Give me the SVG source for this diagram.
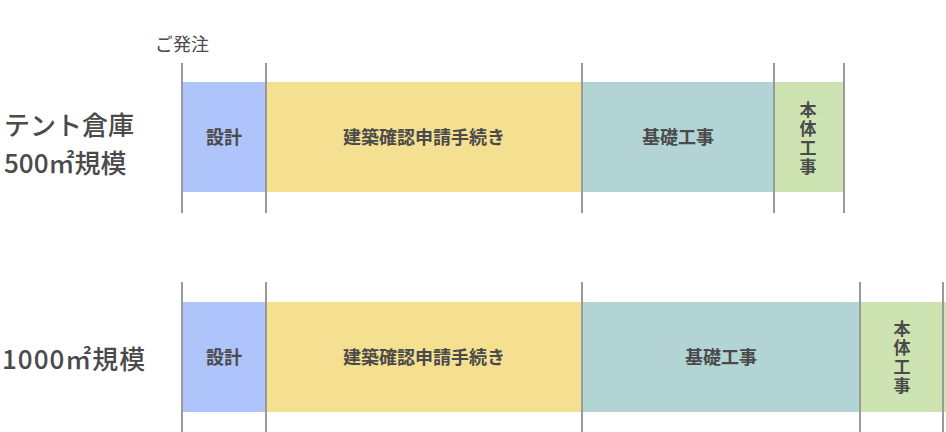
<svg xmlns="http://www.w3.org/2000/svg" width="946" height="432" viewBox="0 0 946 432">
<style>
.t{font-family:"Noto Sans CJK JP","Noto Sans",sans-serif;fill:#4a4a4a}
.lbl{font-size:18px;text-anchor:middle;font-weight:bold}
.vt{font-size:17px;text-anchor:middle;font-weight:bold;writing-mode:vertical-rl;letter-spacing:2px}
.big{font-size:26px;font-weight:500}
.sep{stroke:#9a9a9a;stroke-width:2}
.b1{fill:#b0c4fc}.b2{fill:#f5df90}.b3{fill:#b3d4d4}.b4{fill:#cde4b2}
</style>
<rect width="946" height="432" fill="#fff"/>
<text class="t" x="182" y="51" font-size="18" text-anchor="middle">ご発注</text>
<text class="t big"><tspan x="4" y="135">テント倉庫</tspan><tspan x="4" y="173">500㎡規模</tspan></text>
<text class="t big" x="2" y="369" font-size="27" letter-spacing="1">1000㎡規模</text>
<g id="row1">
<g id="r1-design"><rect class="b1" x="182" y="82" width="84" height="110"/><text class="t lbl" x="224" y="144">設計</text></g>
<g id="r1-permit"><rect class="b2" x="266" y="82" width="316" height="110"/><text class="t lbl" x="424" y="144">建築確認申請手続き</text></g>
<g id="r1-found"><rect class="b3" x="582" y="82" width="192" height="110"/><text class="t lbl" x="678" y="144">基礎工事</text></g>
<g id="r1-body"><rect class="b4" x="774" y="82" width="70" height="110"/><text class="t vt" x="808" y="139">本体工事</text></g>
</g>
<g id="row2">
<g id="r2-design"><rect class="b1" x="182" y="302" width="84" height="110"/><text class="t lbl" x="224" y="364">設計</text></g>
<g id="r2-permit"><rect class="b2" x="266" y="302" width="316" height="110"/><text class="t lbl" x="424" y="364">建築確認申請手続き</text></g>
<g id="r2-found"><rect class="b3" x="582" y="302" width="278" height="110"/><text class="t lbl" x="721" y="364">基礎工事</text></g>
<g id="r2-body"><rect class="b4" x="860" y="302" width="86" height="110"/><text class="t vt" x="902" y="358">本体工事</text></g>
</g>
<g id="connectors">
<line class="sep" x1="182" y1="63" x2="182" y2="213"/>
<line class="sep" x1="266" y1="63" x2="266" y2="213"/>
<line class="sep" x1="582" y1="63" x2="582" y2="213"/>
<line class="sep" x1="774" y1="63" x2="774" y2="213"/>
<line class="sep" x1="844" y1="63" x2="844" y2="213"/>
<line class="sep" x1="182" y1="282" x2="182" y2="432"/>
<line class="sep" x1="266" y1="282" x2="266" y2="432"/>
<line class="sep" x1="582" y1="282" x2="582" y2="432"/>
<line class="sep" x1="860" y1="282" x2="860" y2="432"/>
<line class="sep" x1="943" y1="282" x2="943" y2="432"/>
</g>
</svg>
